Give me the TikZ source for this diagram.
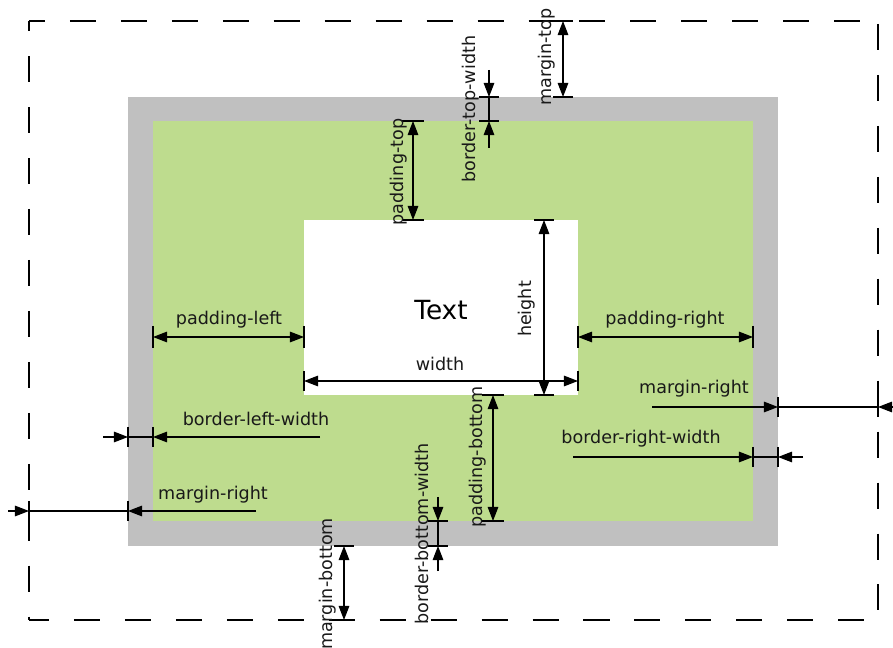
\documentclass[tikz,border=0pt]{standalone}
\usepackage{fontspec}
\setmainfont{DejaVu Sans}
\usepackage{tikz}
\usetikzlibrary{arrows.meta,positioning}
\definecolor{boxGray}{RGB}{192,192,192}
\definecolor{boxGreen}{RGB}{190,220,142}

\begin{document}
\begin{tikzpicture}[x=0.02cm, y=-0.02cm,
    dimline/.style={line width=0.7pt},
    dimarrow/.style={line width=0.7pt, -{Triangle[length=8pt,width=6pt]}},
    dimboth/.style={line width=0.7pt, {Triangle[length=8pt,width=6pt]}-{Triangle[length=8pt,width=6pt]}},
    dimlabel/.style={font=\fontsize{10}{12}\selectfont, inner sep=0pt, text=black!90},
    marginline/.style={line width=0.8pt, dash pattern=on 14.8pt off 14.2pt}]
  \useasboundingbox (0,0) rectangle (893,648);

  % Boxes
  \coordinate (mg-nw) at (29,21);
  \coordinate (mg-se) at (878,620);
  \coordinate (bd-nw) at (128,97);
  \coordinate (bd-se) at (778,546);
  \coordinate (pd-nw) at (153,121);
  \coordinate (pd-se) at (753,521);
  \coordinate (ct-nw) at (304,220);
  \coordinate (ct-se) at (578,395);
  \fill[boxGray] (bd-nw) rectangle (bd-se);
  \fill[boxGreen] (pd-nw) rectangle (pd-se);
  \fill[white] (ct-nw) rectangle (ct-se);
  \node[font=\fontsize{15}{18}\selectfont, inner sep=0pt] (txt) at (441,310) {Text};

  % Margin edge (dashed)
  \draw[marginline, dash phase=5.7pt] (mg-nw) -- (mg-nw -| mg-se);
  \draw[marginline, dash phase=9pt] (mg-nw) -- (mg-nw |- mg-se);
  \draw[marginline, dash phase=27.3pt] (mg-nw -| mg-se) -- (mg-se);
  \draw[marginline, dash phase=3.4pt] (mg-nw |- mg-se) -- (mg-se);

  % width and height
  \coordinate (wd-l) at (304,381);
  \coordinate (wd-r) at (578,381);
  \draw[dimboth] (wd-l) -- (wd-r);
  \draw[dimline] (wd-l) ++(0,-10) -- ++(0,20);
  \draw[dimline] (wd-r) ++(0,-10) -- ++(0,20);
  \node[dimlabel] (wd-lbl) at (440,364) {width};

  \coordinate (ht-t) at (544,220);
  \coordinate (ht-b) at (544,395);
  \draw[dimboth] (ht-t) -- (ht-b);
  \draw[dimline] (ht-t) ++(-10,0) -- ++(20,0);
  \draw[dimline] (ht-b) ++(-10,0) -- ++(20,0);
  \node[dimlabel, rotate=90] (ht-lbl) at (527,309) {height};

  % Padding
  \coordinate (pl-l) at (153,337);
  \coordinate (pl-r) at (304,337);
  \draw[dimboth] (pl-l) -- (pl-r);
  \draw[dimline] (pl-l) ++(0,-11) -- ++(0,22);
  \draw[dimline] (pl-r) ++(0,-11) -- ++(0,22);
  \node[dimlabel] (pl-lbl) at (229,320) {padding-left};

  \coordinate (pr-l) at (578,337);
  \coordinate (pr-r) at (753,337);
  \draw[dimboth] (pr-l) -- (pr-r);
  \draw[dimline] (pr-l) ++(0,-11) -- ++(0,22);
  \draw[dimline] (pr-r) ++(0,-11) -- ++(0,22);
  \node[dimlabel] (pr-lbl) at (665,320) {padding-right};

  \coordinate (pt-t) at (413,121);
  \coordinate (pt-b) at (413,220);
  \draw[dimboth] (pt-t) -- (pt-b);
  \draw[dimline] (pt-t) ++(-11,0) -- ++(22,0);
  \draw[dimline] (pt-b) ++(-11,0) -- ++(22,0);
  \node[dimlabel, rotate=90] (pt-lbl) at (399,172) {padding-top};

  \coordinate (pb-t) at (493,395);
  \coordinate (pb-b) at (493,521);
  \draw[dimboth] (pb-t) -- (pb-b);
  \draw[dimline] (pb-t) ++(-11,0) -- ++(22,0);
  \draw[dimline] (pb-b) ++(-11,0) -- ++(22,0);
  \node[dimlabel, rotate=90] (pb-lbl) at (478,457) {padding-bottom};

  % Border
  \coordinate (bt-a) at (489,70);
  \coordinate (bt-t) at (489,97);
  \coordinate (bt-b) at (489,121);
  \coordinate (bt-z) at (489,148);
  \draw[dimarrow] (bt-a) -- (bt-t);
  \draw[dimline] (bt-t) -- (bt-b);
  \draw[dimarrow] (bt-z) -- (bt-b);
  \draw[dimline] (bt-t) ++(-10,0) -- ++(20,0);
  \draw[dimline] (bt-b) ++(-10,0) -- ++(20,0);
  \node[dimlabel, rotate=90] (bt-lbl) at (471,109) {border-top-width};

  \coordinate (bb-a) at (438,497);
  \coordinate (bb-t) at (438,521);
  \coordinate (bb-b) at (438,546);
  \coordinate (bb-z) at (438,571);
  \draw[dimarrow] (bb-a) -- (bb-t);
  \draw[dimline] (bb-t) -- (bb-b);
  \draw[dimarrow] (bb-z) -- (bb-b);
  \draw[dimline] (bb-t) ++(-10,0) -- ++(20,0);
  \draw[dimline] (bb-b) ++(-10,0) -- ++(20,0);
  \node[dimlabel, rotate=90] (bb-lbl) at (422,534) {border-bottom-width};

  \coordinate (bl-a) at (103,437);
  \coordinate (bl-l) at (128,437);
  \coordinate (bl-r) at (153,437);
  \coordinate (bl-z) at (320,437);
  \draw[dimarrow] (bl-a) -- (bl-l);
  \draw[dimline] (bl-l) -- (bl-r);
  \draw[dimarrow] (bl-z) -- (bl-r);
  \draw[dimline] (bl-l) ++(0,-10) -- ++(0,20);
  \draw[dimline] (bl-r) ++(0,-10) -- ++(0,20);
  \node[dimlabel] (bl-lbl) at (256,419) {border-left-width};

  \coordinate (br-a) at (573,457);
  \coordinate (br-l) at (753,457);
  \coordinate (br-r) at (778,457);
  \coordinate (br-z) at (803,457);
  \draw[dimarrow] (br-a) -- (br-l);
  \draw[dimline] (br-l) -- (br-r);
  \draw[dimarrow] (br-z) -- (br-r);
  \draw[dimline] (br-l) ++(0,-10) -- ++(0,20);
  \draw[dimline] (br-r) ++(0,-10) -- ++(0,20);
  \node[dimlabel] (br-lbl) at (641,439) {border-right-width};

  % Margin
  \coordinate (mt-t) at (563,21);
  \coordinate (mt-b) at (563,97);
  \draw[dimboth] (mt-t) -- (mt-b);
  \draw[dimline] (mt-t) ++(-10,0) -- ++(20,0);
  \draw[dimline] (mt-b) ++(-10,0) -- ++(20,0);
  \node[dimlabel, rotate=90] (mt-lbl) at (547,57) {margin-top};

  \coordinate (mb-t) at (344,546);
  \coordinate (mb-b) at (344,620);
  \draw[dimboth] (mb-t) -- (mb-b);
  \draw[dimline] (mb-t) ++(-10,0) -- ++(20,0);
  \draw[dimline] (mb-b) ++(-10,0) -- ++(20,0);
  \node[dimlabel, rotate=90] (mb-lbl) at (328,584) {margin-bottom};

  \coordinate (ml-a) at (8,511);
  \coordinate (ml-l) at (29,511);
  \coordinate (ml-r) at (128,511);
  \coordinate (ml-z) at (256,511);
  \draw[dimarrow] (ml-a) -- (ml-l);
  \draw[dimline] (ml-l) -- (ml-r);
  \draw[dimarrow] (ml-z) -- (ml-r);
  \draw[dimline] (ml-l) ++(0,-10) -- ++(0,20);
  \draw[dimline] (ml-r) ++(0,-10) -- ++(0,20);
  \node[dimlabel] (ml-lbl) at (213,495) {margin-right};

  \coordinate (mr-a) at (652,407);
  \coordinate (mr-l) at (778,407);
  \coordinate (mr-r) at (878,407);
  \coordinate (mr-z) at (897,407);
  \draw[dimarrow] (mr-a) -- (mr-l);
  \draw[dimline] (mr-l) -- (mr-r);
  \draw[dimarrow] (mr-z) -- (mr-r);
  \draw[dimline] (mr-l) ++(0,-10) -- ++(0,20);
  \draw[dimline] (mr-r) ++(0,-10) -- ++(0,20);
  \node[dimlabel] (mr-lbl) at (694,389) {margin-right};
\end{tikzpicture}
\end{document}
